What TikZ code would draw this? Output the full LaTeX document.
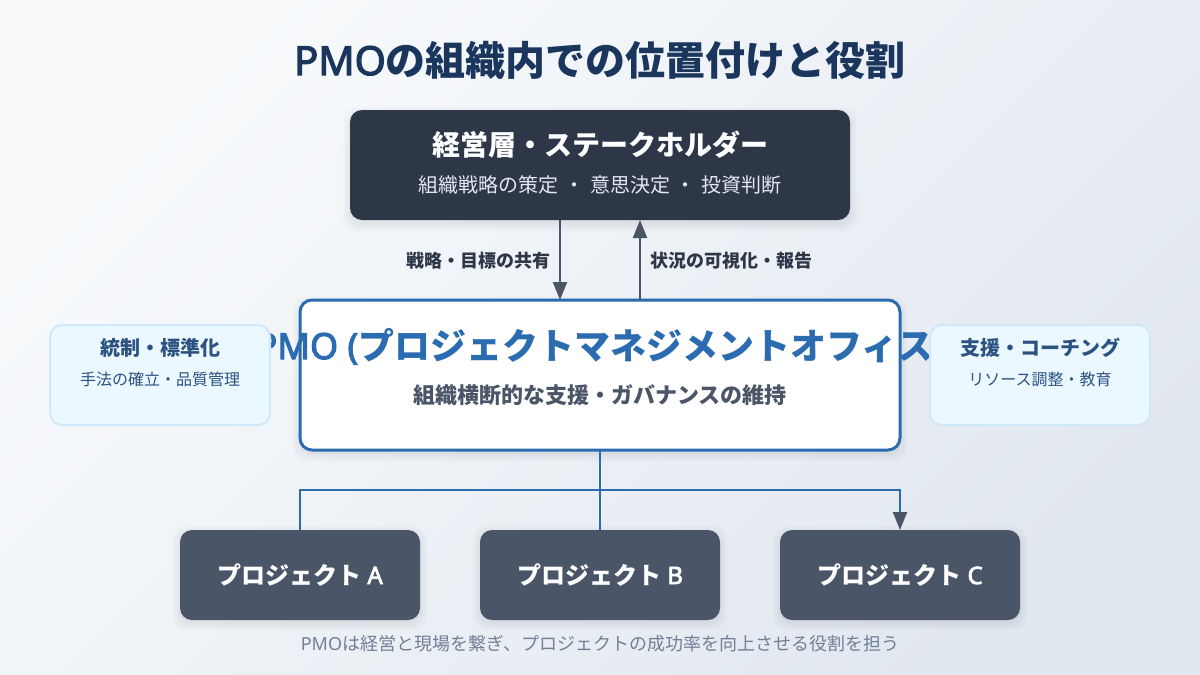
\documentclass[tikz,border=0pt]{standalone}
\usepackage{fontspec}
\setmainfont{Noto Sans CJK JP}
\newfontfamily\latfont{Noto Sans}
\newfontfamily\latbold{Noto Sans}[FakeBold=3]
\usetikzlibrary{arrows.meta, positioning}

\definecolor{bgtop}{HTML}{F8FAFC}
\definecolor{bgbot}{HTML}{E2E8F0}
\definecolor{navy}{HTML}{1A365D}
\definecolor{execfill}{HTML}{2D3748}
\definecolor{slate}{HTML}{4A5568}
\definecolor{pmoblue}{HTML}{2B6CB0}
\definecolor{sidefill}{HTML}{EBF8FF}
\definecolor{sideline}{HTML}{CFE9FA}
\definecolor{sidetext}{HTML}{2C5282}
\definecolor{footgray}{HTML}{718096}
\definecolor{subwhite}{HTML}{E2E8F0}

% font size in px of the reference
\newcommand{\fs}[1]{\fontsize{#1}{#1}\selectfont}
\newcommand{\gap}{\hspace{5.8pt}}

\tikzset{
  card/.style={rounded corners=12pt, inner sep=0pt, outer sep=0pt, minimum width=#1},
  execbox/.style={card=500pt, minimum height=110pt, fill=execfill},
  pmobox/.style={card=600pt, minimum height=150pt, fill=white, draw=pmoblue, line width=3pt},
  sidebox/.style={card=220pt, minimum height=100pt, fill=sidefill, draw=sideline, line width=2pt},
  projbox/.style={card=240pt, minimum height=90pt, fill=slate},
  txt/.style={inner sep=0pt, anchor=base},
  link/.style={draw=slate, line width=2pt, -{Triangle[length=18pt,width=14pt]}},
  tree/.style={draw=pmoblue, line width=2pt},
  shadowbox/.style={fill=black, opacity=0.012, rounded corners=14pt, draw=none},
}

\begin{document}
\begin{tikzpicture}[x=1pt,y=1pt]
\useasboundingbox (0,0) rectangle (1200,-675);
\shade [top color=bgtop, bottom color=bgbot, shading angle=45] (0,0) rectangle (1200,-675);

% shadows
\foreach \g in {0,1.5,3,4.5,6,7.5} {
  \fill [shadowbox] (350-\g,-114+\g) rectangle (850+\g,-224-\g);
  \fill [shadowbox] (300-\g,-304+\g) rectangle (900+\g,-454-\g);
  \fill [shadowbox] (180-\g,-533+\g) rectangle (420+\g,-623-\g);
  \fill [shadowbox] (480-\g,-533+\g) rectangle (720+\g,-623-\g);
  \fill [shadowbox] (780-\g,-533+\g) rectangle (1020+\g,-623-\g);
}

\node [txt, font=\fs{40}\bfseries, text=navy] (title) at (600,-75) {{\latbold PMO}の組織内での位置付けと役割};

% boxes
\node [execbox] (exec) at (600,-165) {};
\node [pmobox] (pmo) at (600,-375) {};
\node [projbox] (proja) at (300,-575) {};
\node [projbox] (projb) at (600,-575) {};
\node [projbox] (projc) at (900,-575) {};

% heading runs past the box, side boxes cover it
\node [txt, font=\fs{36}\bfseries, text=pmoblue] (pmohead) at (600,-359) {{\latbold PMO (}プロジェクトマネジメントオフィス{\latbold )}};
\node [txt, font=\fs{22}\bfseries, text=slate] (pmosub) at (600,-403) {組織横断的な支援・ガバナンスの維持};
\node [sidebox] (left) at (160,-375) {};
\node [sidebox] (right) at (1040,-375) {};

\node [txt, font=\fs{28}\bfseries, text=white] (exechead) at (600,-155) {経営層・ステークホルダー};
\node [txt, font=\fs{20}, text=subwhite] (execsub) at (600,-192) {組織戦略の策定\gap{}・\gap{}意思決定\gap{}・\gap{}投資判断};

\node [txt, font=\fs{20}\bfseries, text=sidetext] (lefthead) at (160,-355) {統制・標準化};
\node [txt, font=\fs{16}, text=sidetext] (leftsub) at (160,-385) {手法の確立・品質管理};
\node [txt, font=\fs{20}\bfseries, text=sidetext] (righthead) at (1040,-355) {支援・コーチング};
\node [txt, font=\fs{16}, text=sidetext] (rightsub) at (1040,-385) {リソース調整・教育};

\node [txt, font=\fs{24}\bfseries, text=white] (atext) at (300,-584) {プロジェクト{\latbold\ A}};
\node [txt, font=\fs{24}\bfseries, text=white] (btext) at (600,-584) {プロジェクト{\latbold\ B}};
\node [txt, font=\fs{24}\bfseries, text=white] (ctext) at (900,-584) {プロジェクト{\latbold\ C}};

% connectors
\draw [link] ([xshift=-40pt]exec.south) -- ([xshift=-40pt]pmo.north);
\draw [link] ([xshift=40pt]pmo.north) -- ([xshift=40pt]exec.south);
\node [txt, font=\fs{18}\bfseries, text=execfill] (downlabel) at (478,-267) {戦略・目標の共有};
\node [txt, font=\fs{18}\bfseries, text=execfill] (uplabel) at (731,-267) {状況の可視化・報告};

\draw [tree] (pmo.south) -- (projb.north);
\draw [tree, -{Triangle[length=18pt,width=14pt,color=slate]}] (proja.north) -- ++(0,40) -| (projc.north);

\node [txt, font=\fs{18}, text=footgray] (foot) at (600,-650) {{\latfont PMO}は経営と現場を繋ぎ、プロジェクトの成功率を向上させる役割を担う};
\end{tikzpicture}
\end{document}
